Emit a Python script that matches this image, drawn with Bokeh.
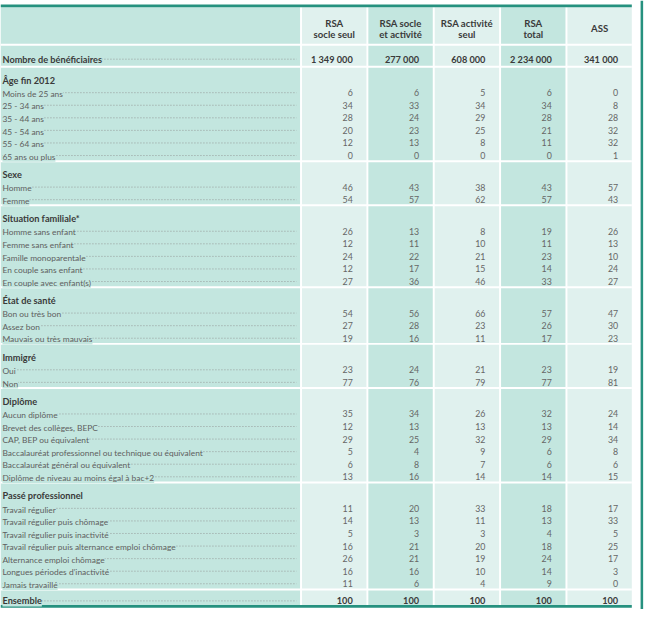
from bokeh.plotting import figure
from bokeh.models import Range1d, ColumnDataSource
from bokeh.core.properties import value
from bokeh.embed import file_html
from bokeh.resources import INLINE

# ---------------- data ----------------
header_line1 = ["RSA", "RSA socle", "RSA activité", "RSA", "ASS"]
header_line2 = ["socle seul", "et activité", "seul", "total", ""]

beneficiaires_label = "Nombre de bénéficiaires"
beneficiaires = ["1 349 000", "277 000", "608 000", "2 234 000", "341 000"]

age_title = "Âge fin 2012"
age_labels = ["Moins de 25 ans", "25 - 34 ans", "35 - 44 ans", "45 - 54 ans", "55 - 64 ans", "65 ans ou plus"]
age_values = [[6, 6, 5, 6, 0], [34, 33, 34, 34, 8], [28, 24, 29, 28, 28],
              [20, 23, 25, 21, 32], [12, 13, 8, 11, 32], [0, 0, 0, 0, 1]]

sexe_title = "Sexe"
sexe_labels = ["Homme", "Femme"]
sexe_values = [[46, 43, 38, 43, 57], [54, 57, 62, 57, 43]]

famille_title = "Situation familiale*"
famille_labels = ["Homme sans enfant", "Femme sans enfant", "Famille monoparentale",
                  "En couple sans enfant", "En couple avec enfant(s)"]
famille_values = [[26, 13, 8, 19, 26], [12, 11, 10, 11, 13], [24, 22, 21, 23, 10],
                  [12, 17, 15, 14, 24], [27, 36, 46, 33, 27]]

sante_title = "État de santé"
sante_labels = ["Bon ou très bon", "Assez bon", "Mauvais ou très mauvais"]
sante_values = [[54, 56, 66, 57, 47], [27, 28, 23, 26, 30], [19, 16, 11, 17, 23]]

immigre_title = "Immigré"
immigre_labels = ["Oui", "Non"]
immigre_values = [[23, 24, 21, 23, 19], [77, 76, 79, 77, 81]]

diplome_title = "Diplôme"
diplome_labels = ["Aucun diplôme", "Brevet des collèges, BEPC", "CAP, BEP ou équivalent",
                  "Baccalauréat professionnel ou technique ou équivalent",
                  "Baccalauréat général ou équivalent", "Diplôme de niveau au moins égal à bac+2"]
diplome_values = [[35, 34, 26, 32, 24], [12, 13, 13, 13, 14], [29, 25, 32, 29, 34],
                  [5, 4, 9, 6, 8], [6, 8, 7, 6, 6], [13, 16, 14, 14, 15]]

passe_title = "Passé professionnel"
passe_labels = ["Travail régulier", "Travail régulier puis chômage", "Travail régulier puis inactivité",
                "Travail régulier puis alternance emploi chômage", "Alternance emploi chômage",
                "Longues périodes d’inactivité", "Jamais travaillé"]
passe_values = [[11, 20, 33, 18, 17], [14, 13, 11, 13, 33], [5, 3, 3, 4, 5],
                [16, 21, 20, 18, 25], [26, 21, 19, 24, 17], [16, 16, 10, 14, 3], [11, 6, 4, 9, 0]]

ensemble_label = "Ensemble"
ensemble_values = [100, 100, 100, 100, 100]

sections = [
    (age_title, age_labels, age_values),
    (sexe_title, sexe_labels, sexe_values),
    (famille_title, famille_labels, famille_values),
    (sante_title, sante_labels, sante_values),
    (immigre_title, immigre_labels, immigre_values),
    (diplome_title, diplome_labels, diplome_values),
    (passe_title, passe_labels, passe_values),
]

# ---------------- styles / layout ----------------
DARK = "#c3e6df"
LIGHT = "#e0f1ee"
FRAME = "#26917f"
LABEL_COLOR = "#5e5e5e"
VALUE_COLOR = "#666666"
BOLD_COLOR = "#3a3a3a"
DOT_COLOR = "#8c8c8c"
FONT = value("Lato")
FS_LABEL = value("8.4px")
FS_BOLD = value("9.2px")
FS_VALUE = value("8.8px")
FS_HEAD = value("9.6px")

LABEL_RIGHT = 307.0
COL_W = 66.0
COL_GAP = 2.0
COL0 = 309.0
TABLE_RIGHT = 647.0
TOP_Y = 6.8
BOTTOM_Y = 620.5
PITCH = 12.9
SEC_TOP = 9.5
SEC_BOT = 8.0
SEP = 2.0
DOT_END = 303.5
BASE = 3.2        # baseline offset below row centre
LABEL_SHIFT = 1.2  # small optical correction for regular labels

col_left = [COL0 + i * (COL_W + COL_GAP) for i in range(5)]
col_right = [l + COL_W for l in col_left]
col_color = [LIGHT, DARK, LIGHT, DARK, LIGHT]

p = figure(width=644, height=609, x_range=Range1d(0, 660), y_range=Range1d(625, 0),
           output_backend="svg", toolbar_location=None, min_border=0,
           background_fill_color="white", border_fill_color="white")
p.axis.visible = False
p.grid.visible = False
p.outline_line_color = None

# column backgrounds
p.quad(left=[0] + col_left, right=[LABEL_RIGHT] + col_right,
       top=[TOP_Y] * 6, bottom=[BOTTOM_Y] * 6,
       fill_color=[DARK] + col_color, line_color=None)

# row layout
label_rows = []
value_rows = []
dots_y = []
seps = []

for i in range(5):
    if header_line2[i]:
        value_rows.append(("h", i, 20.0, header_line1[i]))
        value_rows.append(("h", i, 31.8, header_line2[i]))
    else:
        value_rows.append(("h", i, 25.8, header_line1[i]))
seps.append(44.5)

y_n = 57.0
label_rows.append((y_n, beneficiaires_label, True))
dots_y.append(y_n)
for i, v in enumerate(beneficiaires):
    value_rows.append(("b", i, y_n, v))
seps.append(67.0)

y = 69.0
for title, labels, vals in sections:
    hy = y + SEC_TOP
    label_rows.append((hy, title, True))
    for k, (lab, row) in enumerate(zip(labels, vals)):
        iy = hy + PITCH * (k + 1)
        label_rows.append((iy, lab, False))
        dots_y.append(iy)
        for i, v in enumerate(row):
            value_rows.append(("n", i, iy, str(v)))
    end = hy + PITCH * len(labels) + SEC_BOT
    seps.append(end)
    y = end + SEP

y_e = (y + BOTTOM_Y) / 2.0
label_rows.append((y_e, ensemble_label, True))
dots_y.append(y_e)
for i, v in enumerate(ensemble_values):
    value_rows.append(("b", i, y_e, str(v)))

# white separators between sections
p.quad(left=[0] * len(seps), right=[TABLE_RIGHT] * len(seps),
       top=seps, bottom=[s + SEP for s in seps], fill_color="white", line_color=None)

# frame: top rule, bottom rule, right vertical rule
p.quad(left=[0, 0, 656.0], right=[TABLE_RIGHT, TABLE_RIGHT, 658.6], top=[4.0, 620.5, 0.0],
       bottom=[6.8, 623.2, 625.0], fill_color=FRAME, line_color=None)

# dotted leaders
p.segment(x0=[2] * len(dots_y), x1=[DOT_END] * len(dots_y),
          y0=[d + BASE for d in dots_y], y1=[d + BASE for d in dots_y],
          line_color=DOT_COLOR, line_width=0.8, line_dash="1 2")

# row labels (background hides the leader under the text)
for bold in (False, True):
    rows = [r for r in label_rows if r[2] == bold]
    shift = 0.0 if bold else LABEL_SHIFT
    src = ColumnDataSource(dict(x=[2.0] * len(rows), y=[r[0] + BASE + shift for r in rows],
                                t=[r[1] for r in rows]))
    p.text(x="x", y="y", text="t", source=src, text_font=FONT,
           text_font_size=FS_BOLD if bold else FS_LABEL,
           text_font_style="bold" if bold else "normal",
           text_color=BOLD_COLOR if bold else LABEL_COLOR,
           text_align="left", text_baseline="alphabetic",
           background_fill_color=DARK, padding=0)

# column headers
hdr = [r for r in value_rows if r[0] == "h"]
p.text(x=[(col_left[r[1]] + col_right[r[1]]) / 2 for r in hdr], y=[r[2] + BASE for r in hdr],
       text=[r[3] for r in hdr], text_font=FONT, text_font_size=FS_HEAD, text_font_style="bold",
       text_color=BOLD_COLOR, text_align="center", text_baseline="alphabetic")

# values
for kind, bold in (("n", False), ("b", True)):
    rows = [r for r in value_rows if r[0] == kind]
    p.text(x=[col_right[r[1]] - 14.0 for r in rows], y=[r[2] + BASE for r in rows],
           text=[r[3] for r in rows], text_font=FONT,
           text_font_size=FS_BOLD if bold else FS_VALUE,
           text_font_style="bold" if bold else "normal",
           text_color=BOLD_COLOR if bold else VALUE_COLOR,
           text_align="right", text_baseline="alphabetic")

open("out.html", "w").write(file_html(p, INLINE))
